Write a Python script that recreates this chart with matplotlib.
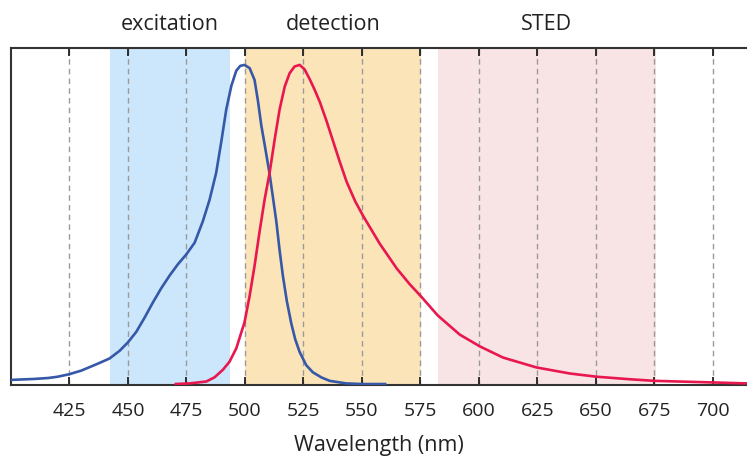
import matplotlib
matplotlib.use("Agg")
import matplotlib.pyplot as plt

plt.rcParams['font.family'] = ['Open Sans', 'DejaVu Sans']

# Blue (excitation / absorption) spectrum
blue_nm = [400, 410, 416, 420, 425, 430, 433.6, 437.8, 442.1, 446.4, 449.9, 453.5, 457.1,
           460.6, 464.2, 467.8, 471.3, 474.9, 478.5, 482, 484.9, 487.7, 489.9, 492.0,
           494.2, 496.3, 498.0, 499.8, 502, 504.1, 505.5, 507, 508.8, 510.5, 512, 513.4,
           514.8, 516.2, 517.9, 519.8, 521.5, 523.4, 526.2, 529, 532.6, 536.2, 543.3,
           550, 560.5]
blue_val = [0.013, 0.016, 0.019, 0.023, 0.031, 0.042, 0.053, 0.066, 0.080, 0.104, 0.13,
            0.163, 0.208, 0.255, 0.30, 0.34, 0.375, 0.406, 0.443, 0.51, 0.578, 0.662,
            0.76, 0.86, 0.935, 0.982, 0.997, 1.0, 0.99, 0.953, 0.89, 0.81, 0.734, 0.66,
            0.583, 0.51, 0.42, 0.34, 0.26, 0.19, 0.14, 0.10, 0.059, 0.037, 0.021, 0.01,
            0.002, 0.0, 0.0]

# Red (emission) spectrum
red_nm = [469.9, 476.3, 483.5, 487, 490.6, 493.4, 496.3, 499.8, 502, 504.1, 506.3, 508.4,
          510.5, 512.7, 514.8, 517, 519.1, 521.2, 523.4, 525.5, 527.7, 529.8, 532, 534.8,
          537.5, 540.5, 543.5, 547.1, 550.5, 557.6, 564.9, 570.4, 575.1, 582.4, 591.8,
          600.4, 610.3, 624.6, 638.9, 650.3, 664.5, 675, 700, 714.6]
red_val = [0.0, 0.002, 0.008, 0.021, 0.045, 0.07, 0.112, 0.193, 0.276, 0.37, 0.48, 0.578,
           0.66, 0.766, 0.86, 0.932, 0.974, 0.995, 1.0, 0.986, 0.955, 0.922, 0.884, 0.826,
           0.765, 0.697, 0.633, 0.573, 0.527, 0.44, 0.362, 0.313, 0.276, 0.215, 0.155,
           0.118, 0.083, 0.052, 0.033, 0.023, 0.015, 0.010, 0.005, 0.002]

# Bands
band_names = ["excitation", "detection", "STED"]
band_start = [442.5, 500, 582.4]
band_end = [493.6, 575.1, 675.6]
band_colors = ["#cce6fb", "#fce4b9", "#f8e4e5"]

ticks = [425, 450, 475, 500, 525, 550, 575, 600, 625, 650, 675, 700]

fig = plt.figure(figsize=(7.47, 4.58), dpi=100)
ax = fig.add_axes([11/747, 1 - 385/458, 1 - 11/747, (385 - 48)/458])

for s, e, c in zip(band_start, band_end, band_colors):
    ax.axvspan(s, e, color=c, lw=0, zorder=0)

for t in ticks:
    ax.axvline(t, color="#9a9a9a", lw=1.0, ls=(0, (4, 3)), zorder=1)

ax.plot(blue_nm, blue_val, color="#3558a8", lw=1.9, zorder=3,
        solid_joinstyle='round', solid_capstyle='butt')
ax.plot(red_nm, red_val, color="#e8174f", lw=1.9, zorder=3,
        solid_joinstyle='round', solid_capstyle='butt')

ax.set_xlim(400, 714.6)
ax.set_ylim(-0.003, 1.053)
ax.set_xticks(ticks)
ax.set_xticklabels([str(t) for t in ticks], fontsize=14, color="#222222")
ax.set_yticks([])
ax.tick_params(axis='x', direction='in', top=True, bottom=True, length=6, width=1.3,
               color="#222222", pad=12)
for side in ['left', 'top', 'bottom']:
    ax.spines[side].set_linewidth(1.5)
    ax.spines[side].set_color("#333333")
ax.spines['right'].set_visible(False)

ax.set_xlabel("Wavelength (nm)", fontsize=15.5, color="#222222", labelpad=11)

for name, s, e in zip(band_names, band_start, band_end):
    ax.text((s + e) / 2, 1 + (48 - 25) / 337, name, transform=ax.get_xaxis_transform(),
            ha='center', va='center', fontsize=15.5, color="#222222")

fig.savefig("out.png", dpi=100)
